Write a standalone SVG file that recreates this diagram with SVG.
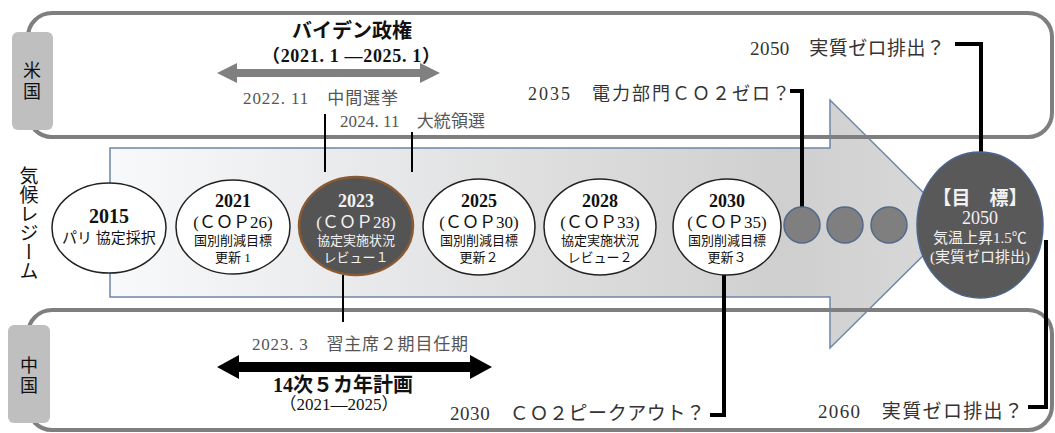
<svg xmlns="http://www.w3.org/2000/svg" width="1055" height="433" viewBox="0 0 1055 433">
<style>
.t{font-family:"Liberation Serif","Noto Sans CJK JP",serif;fill:#111}
.g{fill:#555}
.d{fill:#333}
.b{font-weight:bold}
.w{fill:#f2f2f2}
.c{text-anchor:middle}
.box{fill:none;stroke:#7f7f7f;stroke-width:4}
.lab{fill:#bfbfbf}
.wc{fill:#fff;stroke:#222;stroke-width:1.5}
.dot{fill:#7f7f7f;stroke:#50698c;stroke-width:1.5}
.con{fill:none;stroke:#000;stroke-width:2}
.conb{fill:none;stroke:#000;stroke-width:4}
</style>
<defs>
<linearGradient id="ag" x1="0" y1="0" x2="1" y2="0">
<stop offset="0" stop-color="#f8f9fb"/>
<stop offset="0.8" stop-color="#cfcfcf"/>
<stop offset="1" stop-color="#d9d9d9"/>
</linearGradient>
</defs>
<rect width="1055" height="433" fill="#fff"/>
<g id="boxes-bg">
<rect x="28" y="13" width="1024" height="124" rx="24" fill="#fff"/>
<rect x="28" y="310" width="1024" height="120" rx="24" fill="#fff"/>
</g>
<g id="timeline-arrow">
<path d="M110 148 H830 V100 L955 224 L830 348 V297 H110 Z" fill="url(#ag)" stroke="#6f87a8" stroke-width="1.5"/>
</g>
<g id="us-box">
<rect class="box" x="28" y="13" width="1024" height="124" rx="24"/>
<rect class="lab" x="12" y="32" width="41" height="98" rx="6"/>
<text class="t" x="32" y="77" font-size="18" text-anchor="middle">米</text>
<text class="t" x="32" y="98" font-size="18" text-anchor="middle">国</text>
</g>
<g id="cn-box">
<rect class="box" x="28" y="310" width="1024" height="120" rx="24"/>
<rect class="lab" x="8" y="325" width="42" height="98" rx="6"/>
<text class="t" x="29" y="372" font-size="18" text-anchor="middle">中</text>
<text class="t" x="29" y="392" font-size="18" text-anchor="middle">国</text>
</g>
<g id="regime-label">
<text class="t" x="27" y="166" font-size="19" style="writing-mode:vertical-rl" letter-spacing="0">気候レジーム</text>
</g>
<g id="connectors">
<line class="con" x1="325" y1="114" x2="325" y2="172"/>
<line class="con" x1="412" y1="132" x2="412" y2="172"/>
<line class="con" x1="343" y1="275" x2="343" y2="322"/>
<path class="conb" d="M790 91 H802 V208"/>
<path class="conb" d="M955 44 H981 V152"/>
<path class="conb" d="M710 415 H724 V274"/>
<path class="conb" d="M1028 407 H1046 V240"/>
</g>
<g id="biden">
<text class="t b c" x="352" y="38" font-size="20">バイデン政権</text>
<text class="t b c" x="351" y="62" font-size="18" textLength="178" lengthAdjust="spacing">（2021. 1 —2025. 1）</text>
<path d="M217 73 L237 63 V69 H420 V63 L440 73 L420 83 V77 H237 V83 Z" fill="#808080"/>
</g>
<g id="us-events">
<text class="t g" x="243" y="104" font-size="17" textLength="155" lengthAdjust="spacing">2022. 11　中間選挙</text>
<text class="t g" x="340" y="127" font-size="17" textLength="145" lengthAdjust="spacing">2024. 11　大統領選</text>
<text class="t d" x="528" y="100" font-size="18" textLength="262" lengthAdjust="spacing">2035　電力部門ＣＯ２ゼロ？</text>
<text class="t d" x="750" y="55" font-size="19" textLength="195" lengthAdjust="spacing">2050　実質ゼロ排出？</text>
</g>
<g id="cn-events">
<text class="t g" x="252" y="350" font-size="17" textLength="216" lengthAdjust="spacing">2023. 3　習主席２期目任期</text>
<path d="M217 367 L239 355 V362 H470 V355 L492 367 L470 379 V372 H239 V379 Z" fill="#000"/>
<text class="t b c" x="343" y="392" font-size="20">14次５カ年計画</text>
<text class="t c" x="339" y="410" font-size="17">（2021—2025）</text>
<text class="t d" x="450" y="420" font-size="19" textLength="255" lengthAdjust="spacing">2030　ＣＯ２ピークアウト？</text>
<text class="t d" x="818" y="418" font-size="19" textLength="205" lengthAdjust="spacing">2060　実質ゼロ排出？</text>
</g>
<g id="n2015">
<ellipse class="wc" cx="109" cy="228" rx="57" ry="45"/>
<text class="t b c" x="109" y="223" font-size="20">2015</text>
<text class="t c" x="109" y="243" font-size="15">パリ 協定採択</text>
</g>
<g id="n2021">
<ellipse class="wc" cx="233" cy="227" rx="57" ry="47"/>
<text class="t b c" x="233" y="207" font-size="18">2021</text>
<text class="t c" x="233" y="228" font-size="17">(ＣＯＰ26)</text>
<text class="t c" x="233" y="245" font-size="13">国別削減目標</text>
<text class="t c" x="233" y="262" font-size="13">更新 1</text>
</g>
<g id="n2023">
<ellipse cx="356" cy="226" rx="57" ry="49" fill="#545454" stroke="#8a5a32" stroke-width="2.5"/>
<text class="t b c w" x="356" y="207" font-size="18">2023</text>
<text class="t c w" x="356" y="228" font-size="17">(ＣＯＰ28)</text>
<text class="t c w" x="356" y="245" font-size="13">協定実施状況</text>
<text class="t c w" x="356" y="262" font-size="13">レビュー１</text>
</g>
<g id="n2025">
<ellipse class="wc" cx="479" cy="227" rx="56" ry="48"/>
<text class="t b c" x="479" y="207" font-size="18">2025</text>
<text class="t c" x="479" y="228" font-size="17">(ＣＯＰ30)</text>
<text class="t c" x="479" y="245" font-size="13">国別削減目標</text>
<text class="t c" x="479" y="262" font-size="13">更新２</text>
</g>
<g id="n2028">
<ellipse class="wc" cx="600" cy="227" rx="56" ry="48"/>
<text class="t b c" x="600" y="207" font-size="18">2028</text>
<text class="t c" x="600" y="228" font-size="17">(ＣＯＰ33)</text>
<text class="t c" x="600" y="245" font-size="13">協定実施状況</text>
<text class="t c" x="600" y="262" font-size="13">レビュー２</text>
</g>
<g id="n2030">
<ellipse class="wc" cx="727" cy="227" rx="54" ry="48"/>
<text class="t b c" x="727" y="207" font-size="18">2030</text>
<text class="t c" x="727" y="228" font-size="17">(ＣＯＰ35)</text>
<text class="t c" x="727" y="245" font-size="13">国別削減目標</text>
<text class="t c" x="727" y="262" font-size="13">更新３</text>
</g>
<g id="dots">
<circle class="dot" cx="802" cy="225" r="18"/>
<circle class="dot" cx="845" cy="225" r="18"/>
<circle class="dot" cx="889" cy="225" r="18"/>
</g>
<g id="goal">
<ellipse cx="980" cy="225" rx="63" ry="73" fill="#595959" stroke="#4a6490" stroke-width="1.5"/>
<text class="t b c w" x="980" y="205" font-size="19">【目　標】</text>
<text class="t c w" x="980" y="224" font-size="18">2050</text>
<text class="t c w" x="980" y="243" font-size="15">気温上昇1.5℃</text>
<text class="t c w" x="980" y="262" font-size="15">(実質ゼロ排出)</text>
</g>
</svg>
